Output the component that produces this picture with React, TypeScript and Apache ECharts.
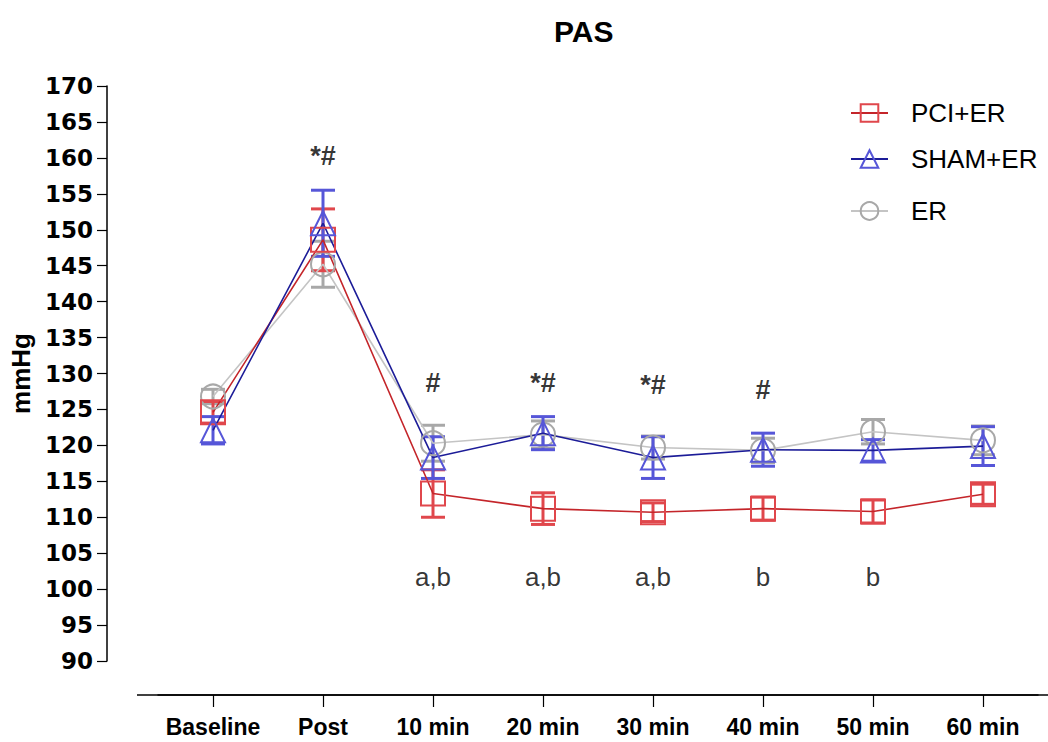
import React, { useEffect, useRef } from "react";
import * as echarts from "echarts";

const categories = ["Baseline", "Post", "10 min", "20 min", "30 min", "40 min", "50 min", "60 min"];
const pciMean = [124.6, 148.6, 113.3, 111.2, 110.7, 111.2, 110.8, 113.2];
const pciErr = [1.5, 4.3, 3.3, 2.2, 1.3, 1.6, 1.6, 1.4];
const shamMean = [122.1, 150.9, 118.3, 121.7, 118.3, 119.4, 119.3, 119.9];
const shamErr = [1.9, 4.6, 2.9, 2.3, 2.9, 2.3, 1.5, 2.7];
const erMean = [126.8, 145.2, 120.3, 121.5, 119.7, 119.3, 121.9, 120.7];
const erErr = [1.0, 3.2, 2.5, 1.9, 1.6, 1.7, 1.7, 2.0];
const sigLabels = ["", "*#", "#", "*#", "*#", "#", "", ""];
const sigY = [0, 160.2, 128.7, 128.7, 128.4, 127.7, 0, 0];
const postLabels = ["", "", "a,b", "a,b", "a,b", "b", "b", ""];
const postY = [0, 0, 101.7, 101.7, 101.7, 101.7, 101.7, 0];
const yTicks = { min: 90, max: 170, step: 5 };

const COLORS = {
  pci: { mark: "#e0474c", line: "#c4252a" },
  sham: { mark: "#5656d8", line: "#1c1c98" },
  er: { mark: "#a8a8a8", line: "#c4c4c4" },
};

function errorSeries(name: string, mean: number[], err: number[], color: string) {
  return {
    type: "custom",
    name: name + "_err",
    silent: true,
    z: 3,
    data: mean.map((m, i) => [i, m - err[i], m + err[i]]),
    renderItem: (params: any, api: any) => {
      const x = api.value(0);
      const lo = api.coord([x, api.value(1)]);
      const hi = api.coord([x, api.value(2)]);
      const hw = 12;
      const style = { stroke: color, lineWidth: 3 };
      return {
        type: "group",
        children: [
          { type: "line", shape: { x1: lo[0], y1: lo[1], x2: hi[0], y2: hi[1] }, style },
          { type: "line", shape: { x1: lo[0] - hw, y1: lo[1], x2: lo[0] + hw, y2: lo[1] }, style },
          { type: "line", shape: { x1: hi[0] - hw, y1: hi[1], x2: hi[0] + hw, y2: hi[1] }, style },
        ],
      };
    },
  };
}

function lineSeries(name: string, mean: number[], symbol: string, c: { mark: string; line: string }) {
  return {
    type: "line",
    name,
    data: mean,
    symbol,
    symbolSize: 24,
    z: 4,
    lineStyle: { color: c.line, width: 1.6 },
    itemStyle: { color: "rgba(255,255,255,0)", borderColor: c.mark, borderWidth: 2 },
  };
}

function textSeries(labels: string[], ys: number[], bold: boolean) {
  return {
    type: "scatter",
    silent: true,
    symbolSize: 1,
    itemStyle: { color: "rgba(0,0,0,0)" },
    z: 6,
    data: labels
      .map((t, i) => ({ value: [i, ys[i]], name: t }))
      .filter((d) => d.name !== ""),
    label: {
      show: true,
      position: "inside",
      formatter: (p: any) => p.name,
      color: "#000",
      fontFamily: "Liberation Sans, Arial, sans-serif",
      fontWeight: bold ? "bold" : "normal",
      fontSize: bold ? 27 : 26,
    },
  };
}

function legendAt(name: string, top: number) {
  return {
    data: [name],
    left: 850,
    top,
    padding: 0,
    orient: "vertical",
    itemWidth: 37,
    itemHeight: 22,
    selectedMode: false,
    textStyle: {
      fontFamily: "Liberation Sans, Arial, sans-serif",
      fontSize: 26,
      color: "#000",
      padding: [0, 0, 0, 18],
    },
  };
}

export default function App() {
  const ref = useRef<HTMLDivElement>(null);
  useEffect(() => {
    if (!ref.current) return;
    const chart = echarts.init(ref.current, undefined, { renderer: "svg" });
    chart.setOption({
      animation: false,
      backgroundColor: "#ffffff",
      title: {
        text: "PAS",
        left: 549,
        top: 11,
        textStyle: { fontFamily: "Liberation Sans, Arial, sans-serif", fontWeight: "bold", fontSize: 30, color: "#000" },
      },
      legend: [legendAt("PCI+ER", 100), legendAt("SHAM+ER", 146), legendAt("ER", 198)],
      grid: { left: 158, right: 10, top: 86, bottom: 81 },
      xAxis: {
        type: "category",
        data: categories,
        offset: 34,
        axisLine: { show: true, lineStyle: { color: "#000", width: 1.5 } },
        axisTick: { show: true, alignWithLabel: true, interval: 0, length: 12, lineStyle: { color: "#000", width: 1.2 } },
        axisLabel: {
          interval: 0,
          margin: 20,
          color: "#000",
          fontFamily: "Liberation Sans, Arial, sans-serif",
          fontWeight: "bold",
          fontSize: 23,
        },
      },
      yAxis: {
        type: "value",
        min: yTicks.min,
        max: yTicks.max,
        interval: yTicks.step,
        offset: 51,
        name: "mmHg",
        nameLocation: "middle",
        nameRotate: 90,
        nameGap: 68,
        nameTextStyle: { fontFamily: "Liberation Sans, Arial, sans-serif", fontWeight: "bold", fontSize: 26, color: "#000" },
        splitLine: { show: false },
        axisLine: { show: true, lineStyle: { color: "#000", width: 1.5 } },
        axisTick: { show: true, length: 10, lineStyle: { color: "#000", width: 1.2 } },
        axisLabel: {
          margin: 14,
          color: "#000",
          fontFamily: "DejaVu Sans, sans-serif",
          fontWeight: "bold",
          fontSize: 23,
        },
      },
      graphic: [
        {
          type: "line",
          shape: { x1: 137, y1: 695, x2: 1048, y2: 695 },
          style: { stroke: "#000", lineWidth: 1.5 },
          z: 10,
        },
      ],
      series: [
        errorSeries("ER", erMean, erErr, COLORS.er.mark),
        lineSeries("ER", erMean, "circle", COLORS.er),
        errorSeries("PCI+ER", pciMean, pciErr, COLORS.pci.mark),
        lineSeries("PCI+ER", pciMean, "rect", COLORS.pci),
        errorSeries("SHAM+ER", shamMean, shamErr, COLORS.sham.mark),
        lineSeries("SHAM+ER", shamMean, "triangle", COLORS.sham),
        textSeries(sigLabels, sigY, true),
        textSeries(postLabels, postY, false),
      ],
    });
    return () => chart.dispose();
  }, []);
  return (
    <div
      ref={ref}
      style={{ position: "absolute", left: 0, top: 0, width: 1048, height: 742, background: "#fff" }}
    />
  );
}
